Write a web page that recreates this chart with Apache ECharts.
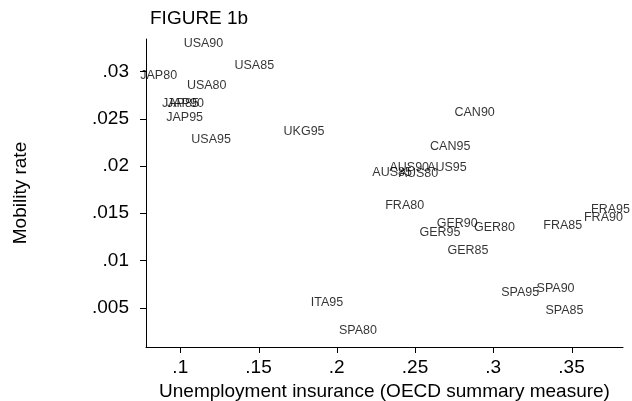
<!DOCTYPE html>
<html><head><meta charset="utf-8">
<script src="https://cdn.jsdelivr.net/npm/echarts@6/dist/echarts.min.js"></script>
<style>html,body{margin:0;padding:0;background:#fff}#c{width:632px;height:401px}</style>
</head><body><div id="c"></div>
<script>
const labels = ["USA90","USA85","JAP80","USA80","JAP85","JAP90","JAP95","USA95","UKG95",
  "CAN90","CAN95","AUS90","AUS95","AUS85","AUS80","FRA80","GER90","GER80","GER95","GER85",
  "FRA85","FRA95","FRA90","ITA95","SPA80","SPA95","SPA90","SPA85"];
const unemploymentInsurance = [0.1148,0.1473,0.0862,0.1169,0.1001,0.1033,0.1028,0.1197,0.1791,
  0.2881,0.2725,0.2463,0.2704,0.2354,0.2522,0.2434,0.2770,0.3008,0.2659,0.2838,
  0.3444,0.3749,0.3704,0.1937,0.2135,0.3172,0.3398,0.3455];
const mobilityRate = [0.0330,0.03064,0.02958,0.02852,0.0266,0.0266,0.02517,0.02284,0.02364,
  0.02566,0.02206,0.01985,0.01985,0.01927,0.01922,0.01577,0.01394,0.01352,0.01294,0.01104,
  0.01369,0.01542,0.01458,0.00553,0.00253,0.00659,0.00706,0.00465];
const xTicks = [0.1,0.15,0.2,0.25,0.3,0.35];
const yTicks = [0.005,0.01,0.015,0.02,0.025,0.03];
const xRange = [0.0781, 0.3829];
const yRange = [0.00084, 0.03343];

const FONT = "Liberation Sans";
const TICK = 6;
const fmt = v => String(v).replace(/^0\./, '.');
const data = labels.map((l,i)=>({name:l, value:[unemploymentInsurance[i], mobilityRate[i]]}));

const chart = echarts.init(document.getElementById('c'), null, {renderer:'canvas'});
chart.setOption({
  animation:false,
  backgroundColor:'#fff',
  textStyle:{fontFamily:FONT},
  title:{text:'FIGURE 1b', left:145, top:4,
    textStyle:{fontFamily:FONT, fontSize:19, fontWeight:'normal', color:'#000'}},
  grid:{left:146, right:9, top:39, bottom:54, containLabel:false, outerBoundsMode:'none'},
  xAxis:{type:'value', min:xRange[0], max:xRange[1],
    name:'Unemployment insurance (OECD summary measure)', nameLocation:'middle', nameGap:25,
    nameTextStyle:{fontFamily:FONT, fontSize:19, color:'#000'},
    axisLine:{show:true, onZero:false, lineStyle:{color:'#000', width:1}},
    axisTick:{show:false},
    axisLabel:{customValues:xTicks, formatter:fmt, fontFamily:FONT, fontSize:19, color:'#000', margin:11},
    splitLine:{show:false}},
  yAxis:{type:'value', min:yRange[0], max:yRange[1],
    name:'Mobility rate', nameLocation:'middle', nameGap:116, nameRotate:90,
    nameTextStyle:{fontFamily:FONT, fontSize:19, color:'#000'},
    axisLine:{show:true, onZero:false, lineStyle:{color:'#000', width:1}},
    axisTick:{show:false},
    axisLabel:{customValues:yTicks, formatter:fmt, fontFamily:FONT, fontSize:19, color:'#000', margin:17,
      padding:[3,0,0,0]},
    splitLine:{show:false}},
  series:[
    {type:'scatter', data:data, symbol:'circle', symbolSize:1,
      itemStyle:{color:'rgba(0,0,0,0)'},
      label:{show:true, position:'inside', formatter:p=>p.name, fontFamily:FONT, fontSize:12.5, color:'#000'},
      labelLayout:{hideOverlap:false}, emphasis:{disabled:true}},
    {type:'custom', name:'xticks', silent:true, clip:false, z:3,
      data:xTicks.map(v=>[v, yRange[0]]),
      renderItem:(params, api)=>{
        const p = api.coord([api.value(0), api.value(1)]);
        const x = Math.round(p[0]) + 0.5;
        return {type:'line', shape:{x1:x, y1:p[1], x2:x, y2:p[1]+TICK},
          style:{stroke:'#000', lineWidth:1}};
      }},
    {type:'custom', name:'yticks', silent:true, clip:false, z:3,
      data:yTicks.map(v=>[xRange[0], v]),
      renderItem:(params, api)=>{
        const p = api.coord([api.value(0), api.value(1)]);
        const y = Math.round(p[1]) + 0.5;
        return {type:'line', shape:{x1:p[0], y1:y, x2:p[0]-TICK, y2:y},
          style:{stroke:'#000', lineWidth:1}};
      }}
  ]
});
</script></body></html>
